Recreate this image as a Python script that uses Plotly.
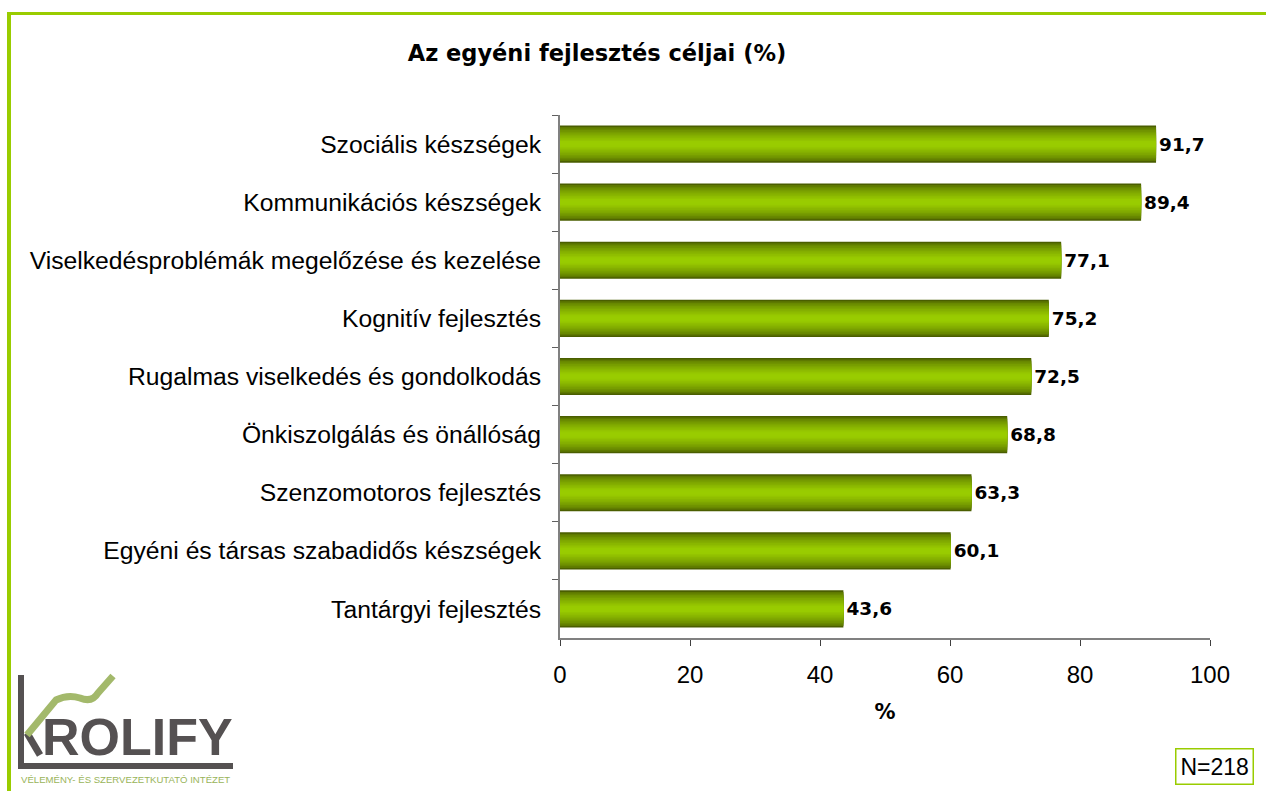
import plotly.graph_objects as go

categories = [
    "Szociális készségek",
    "Kommunikációs készségek",
    "Viselkedésproblémák megelőzése és kezelése",
    "Kognitív fejlesztés",
    "Rugalmas viselkedés és gondolkodás",
    "Önkiszolgálás és önállóság",
    "Szenzomotoros fejlesztés",
    "Egyéni és társas szabadidős készségek",
    "Tantárgyi fejlesztés",
]
values = [91.7, 89.4, 77.1, 75.2, 72.5, 68.8, 63.3, 60.1, 43.6]
x_ticks = [0, 20, 40, 60, 80, 100]

W, H = 1266, 791
L, R, T, B = 560, 1210, 115, 638

def px(x):
    return (x - L) / (R - L)

def py(y):
    return (B - y) / (B - T)

def mix(c1, c2, t):
    return "rgb(%d,%d,%d)" % tuple(round(a + (b - a) * t) for a, b in zip(c1, c2))

dark = (74, 94, 0)
bright = (153, 204, 0)

fig = go.Figure()
# gradient bars: stacked layers, narrower and brighter towards the middle
n = 12
full = 0.64
for i in range(n):
    t = i / (n - 1)
    w = full * (1 - i / n)
    col = mix(dark, bright, min(1, (t ** 0.6) * 1.05))
    fig.add_trace(go.Bar(
        x=values, y=categories, orientation="h", width=w,
        marker=dict(color=col, line=dict(width=0)),
        hoverinfo="skip" if i else None,
        text=values if i == 0 else None,
        texttemplate="%{x:.1f}" if i == 0 else None,
        textposition="outside" if i == 0 else "none",
        textfont=dict(family="DejaVu Sans", size=18.5, color="black", weight="bold"),
        cliponaxis=False, showlegend=False,
    ))

fig.update_layout(
    width=W, height=H,
    barmode="overlay",
    separators=", ",
    plot_bgcolor="white", paper_bgcolor="white",
    margin=dict(l=L, r=W - R, t=T, b=H - B, autoexpand=False),
    title=dict(text="<b>Az egyéni fejlesztés céljai (%)</b>", x=597 / W, xanchor="center",
               y=1 - 53 / H, yanchor="middle",
               font=dict(family="DejaVu Sans", size=22.5, color="black")),
)
fig.update_xaxes(
    range=[0, 100], tickvals=x_ticks, showgrid=False, zeroline=False,
    showline=True, linecolor="#808080", linewidth=2,
    ticks="outside", ticklen=6, tickcolor="#404040", tickwidth=1,
    tickfont=dict(family="Liberation Sans", size=24, color="black"),
    ticklabelstandoff=8,
    title=dict(text="<b>%</b>", font=dict(family="DejaVu Sans", size=21, color="black"), standoff=18),
)
fig.update_yaxes(
    categoryorder="array", categoryarray=categories, autorange="reversed",
    showgrid=False, zeroline=False,
    showline=True, linecolor="#808080", linewidth=2,
    ticks="outside", ticklen=6, tickcolor="#606060", tickson="boundaries",
    tickfont=dict(family="Liberation Sans", size=24.7, color="black"),
    ticklabelstandoff=12,
)

green = "#99cc00"
shapes = [
    dict(type="rect", xref="paper", yref="paper", x0=px(7), x1=px(1266), y0=py(12), y1=py(15),
         fillcolor=green, line=dict(width=0), layer="above"),
    dict(type="rect", xref="paper", yref="paper", x0=px(7), x1=px(11), y0=py(12), y1=py(791),
         fillcolor=green, line=dict(width=0), layer="above"),
    # logo
    dict(type="rect", xref="paper", yref="paper", x0=px(18), x1=px(24), y0=py(675), y1=py(769),
         fillcolor="#555152", line=dict(width=0)),
    dict(type="rect", xref="paper", yref="paper", x0=px(18), x1=px(233), y0=py(763), y1=py(769),
         fillcolor="#555152", line=dict(width=0)),
    dict(type="path", xref="paper", yref="paper",
         path="M %f,%f L %f,%f" % (px(27), py(733), px(40), py(755)),
         line=dict(color="#555152", width=7)),
    dict(type="path", xref="paper", yref="paper",
         path="M %f,%f L %f,%f Q %f,%f %f,%f Q %f,%f %f,%f L %f,%f" % (
             px(27), py(735), px(56), py(700), px(68), py(694), px(80), py(698),
             px(92), py(703), px(98), py(693), px(113), py(676)),
         line=dict(color="#a3b96b", width=7)),
]
fig.update_layout(shapes=shapes)

annotations = [
    dict(text="<b>ROLIFY</b>", x=px(40), y=py(737), xref="paper", yref="paper",
         xanchor="left", yanchor="middle", showarrow=False,
         font=dict(family="Liberation Sans", size=52, color="#555152")),
    dict(text="VÉLEMÉNY- ÉS SZERVEZETKUTATÓ INTÉZET", x=px(19), y=py(779), xref="paper", yref="paper",
         xanchor="left", yanchor="middle", showarrow=False,
         font=dict(family="Liberation Sans", size=9.6, color="#99b45a")),
    dict(text="N=218", x=px(1214.5), y=py(766), xref="paper", yref="paper",
         xanchor="center", yanchor="middle", showarrow=False,
         bordercolor=green, borderwidth=1.5, borderpad=4,
         font=dict(family="Liberation Sans", size=23, color="black")),
]
fig.update_layout(annotations=annotations)

# drop the default page margin so the figure sits at the window corner
fig.write_html("out.html", config={"displayModeBar": False},
               post_script="document.body.style.margin='0';")
